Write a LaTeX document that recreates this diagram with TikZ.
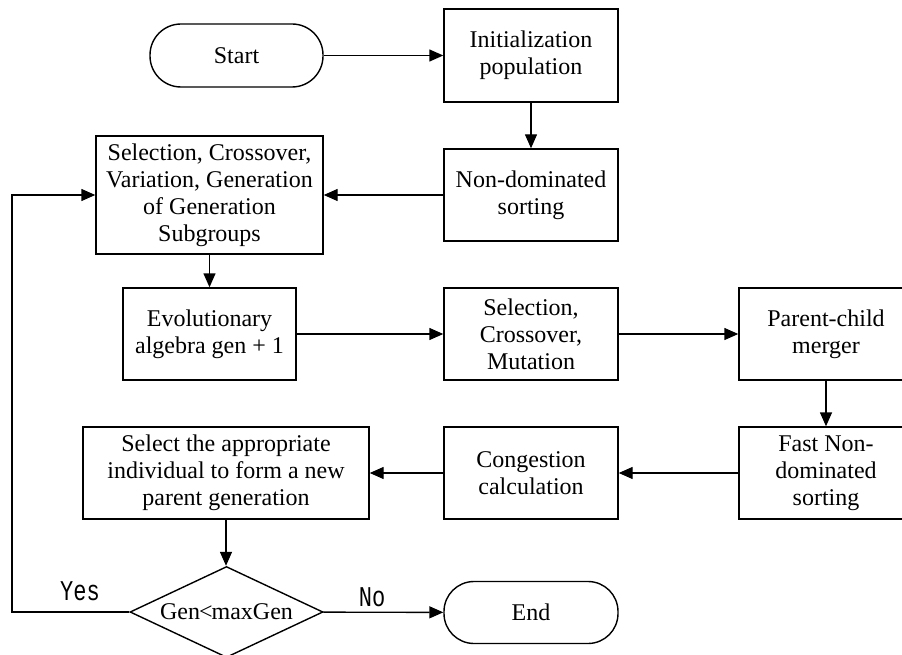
\documentclass[tikz,border=0pt]{standalone}
\usepackage{fontspec}
\usepackage{graphicx}
\setmainfont{Liberation Serif}
\newfontfamily\labelfont{Liberation Mono}
\usetikzlibrary{shapes.geometric,arrows.meta}
\begin{document}
\begin{tikzpicture}[x=1pt,y=-1pt,
  every node/.style={font=\fontsize{24}{27}\selectfont, align=center, text=black},
  procbox/.style={draw, line width=1.4pt, rectangle, inner sep=2pt, minimum height=92pt},
  termbox/.style={draw, line width=1.4pt, rectangle, rounded corners=30pt, minimum width=174pt, minimum height=62pt},
  decbox/.style={draw, line width=1.4pt, diamond, aspect=2.1, inner sep=0pt, minimum width=193pt, minimum height=91pt},
  flow/.style={line width=1.4pt, -{Triangle[length=14pt,width=12pt]}},
  yn/.style={font=\labelfont\fontsize{22}{25}\selectfont}
]
\useasboundingbox (0,0) rectangle (902,655);
\clip (0,0) rectangle (902,655);
\node[termbox, minimum width=173pt, minimum height=63pt, rounded corners=31pt] (start) at (236.5,55.5) {Start};
\node[procbox, minimum width=174pt, minimum height=93pt] (init) at (531,55.5) {Initialization\\population};
\node[procbox, minimum width=174pt] (nondom) at (531,195) {Non-dominated\\sorting};
\node[procbox, minimum width=227pt, minimum height=118pt] (selgen) at (209.5,195) {Selection, Crossover,\\Variation, Generation\\of Generation\\Subgroups};
\node[procbox, minimum width=173pt] (evo) at (209.5,334) {Evolutionary\\algebra gen + 1};
\node[procbox, minimum width=174pt] (scm) at (531,334) {Selection,\\Crossover,\\Mutation};
\node[procbox, minimum width=174pt] (pcm) at (826,334) {Parent-child\\merger};
\node[procbox, minimum width=174pt] (fns) at (826,473) {Fast Non-\\dominated\\sorting};
\node[procbox, minimum width=174pt] (cong) at (531,473) {Congestion\\calculation};
\node[procbox, minimum width=286pt] (selapp) at (226,473) {Select the appropriate\\individual to form a new\\parent generation};
\node[decbox] (dec) at (226.5,612) {Gen{\kern-1pt}<{\kern-1pt}maxGen};
\node[termbox] (end) at (531,612.5) {End};
\coordinate (loopb) at (12,612);
\coordinate (loopt) at (12,195);
\node[yn] (yes) at (80,591) {\scalebox{1}[1.3]{Yes}};
\node[yn] (no) at (372,597) {\scalebox{1}[1.3]{No}};

\draw[flow] (start) -- (init);
\draw[flow] (init) -- (nondom);
\draw[flow] (nondom) -- (selgen);
\draw[flow] (selgen) -- (evo);
\draw[flow] (evo) -- (scm);
\draw[flow] (scm) -- (pcm);
\draw[flow] (pcm) -- (fns);
\draw[flow] (fns) -- (cong);
\draw[flow] (cong) -- (selapp);
\draw[flow] (selapp.south) -- (selapp.south |- dec.north);
\draw[flow] (dec) -- (end);
\draw[flow] (dec.west) -- (loopb) -- (loopt) -- (selgen.west);
\end{tikzpicture}
\end{document}
